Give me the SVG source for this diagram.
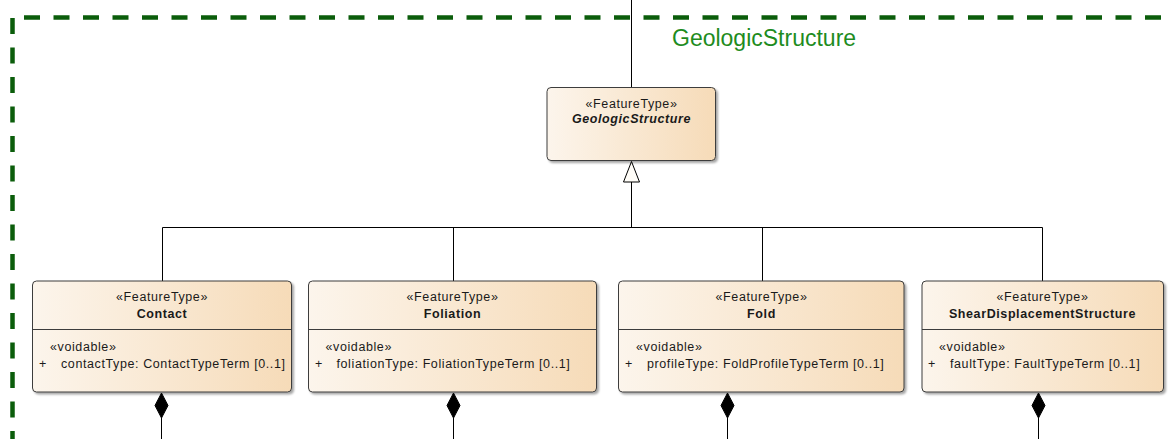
<svg xmlns="http://www.w3.org/2000/svg" width="1171" height="439" viewBox="0 0 1171 439">
  <style>
    .frame { fill: none; stroke: #0b5d0b; stroke-width: 4.5; stroke-dasharray: 16 13.5; }
    .pkg-title { font-family: "Liberation Sans", Arial, sans-serif; font-size: 23px; fill: #1e8c1e; }
    .box { fill: url(#classFill); stroke: #3c3c3c; stroke-width: 1; filter: url(#shadow); }
    .divider { stroke: #3c3c3c; stroke-width: 1; }
    .txt { font-family: "Liberation Sans", Arial, sans-serif; font-size: 12.5px; fill: #1a1a1a; letter-spacing: 0.6px; }
    .center { text-anchor: middle; }
    .name { font-weight: bold; }
    .abstract { font-weight: bold; font-style: italic; }
    .conn { fill: none; stroke: #000; stroke-width: 1; }
    .gen { fill: #fffdf8; stroke: #000; stroke-width: 1; }
    .comp { fill: #000; stroke: #000; stroke-width: 1; }
  </style>
  <defs>
    <linearGradient id="classFill" x1="0" y1="0" x2="1" y2="0">
      <stop offset="0" stop-color="#fcf5ec"/>
      <stop offset="1" stop-color="#f6dbb8"/>
    </linearGradient>
    <filter id="shadow" x="-5%" y="-5%" width="112%" height="120%">
      <feDropShadow dx="2" dy="2" stdDeviation="1.2" flood-color="#000" flood-opacity="0.35"/>
    </filter>
  </defs>

  <!-- package frame -->
  <g id="package-frame">
    <line class="frame" x1="24" y1="17.5" x2="1171" y2="17.5"/>
    <line class="frame" x1="12.5" y1="18" x2="12.5" y2="439"/>
    <text class="pkg-title" x="672" y="46">GeologicStructure</text>
  </g>

  <!-- connectors -->
  <g id="connectors">
    <line class="conn" x1="631.5" y1="0" x2="631.5" y2="88"/>
    <path class="conn" d="M631.5,182 V227.5 M162.5,227.5 H1042.5 M162.5,227.5 V281 M453.5,227.5 V281 M762.5,227.5 V281 M1042.5,227.5 V281"/>
    <polygon class="gen" points="631.5,161.5 623.5,182 639.5,182"/>
    <path class="conn" d="M161.5,418 V439 M453.5,418 V439 M727.5,418 V439 M1038.5,418 V439"/>
    <polygon class="comp" points="161.5,393 168,405.5 161.5,418 155,405.5"/>
    <polygon class="comp" points="453.5,393 460,405.5 453.5,418 447,405.5"/>
    <polygon class="comp" points="727.5,393 734,405.5 727.5,418 721,405.5"/>
    <polygon class="comp" points="1038.5,393 1045,405.5 1038.5,418 1032,405.5"/>
  </g>

  <!-- abstract supertype -->
  <g id="node-GeologicStructure">
    <rect class="box" x="547" y="87.5" width="168.5" height="73" rx="4"/>
    <text class="txt center" x="631.5" y="108">«FeatureType»</text>
    <text class="txt center abstract" x="631.5" y="123">GeologicStructure</text>
  </g>

  <g id="node-Contact">
    <rect class="box" x="32.5" y="281" width="259" height="111" rx="4"/>
    <line class="divider" x1="32.5" y1="329.5" x2="291.5" y2="329.5"/>
    <text class="txt center" x="162" y="300.5">«FeatureType»</text>
    <text class="txt center name" x="162" y="317.5">Contact</text>
    <text class="txt" x="50" y="351">«voidable»</text>
    <text class="txt" x="39" y="367.5">+</text>
    <text class="txt" x="61" y="367.5">contactType: ContactTypeTerm [0..1]</text>
  </g>

  <g id="node-Foliation">
    <rect class="box" x="308.5" y="281" width="288" height="111" rx="4"/>
    <line class="divider" x1="308.5" y1="329.5" x2="596.5" y2="329.5"/>
    <text class="txt center" x="452.5" y="300.5">«FeatureType»</text>
    <text class="txt center name" x="452.5" y="317.5">Foliation</text>
    <text class="txt" x="325.5" y="351">«voidable»</text>
    <text class="txt" x="315" y="367.5">+</text>
    <text class="txt" x="336.5" y="367.5">foliationType: FoliationTypeTerm [0..1]</text>
  </g>

  <g id="node-Fold">
    <rect class="box" x="618.5" y="281" width="285.5" height="111" rx="4"/>
    <line class="divider" x1="618.5" y1="329.5" x2="904" y2="329.5"/>
    <text class="txt center" x="761.5" y="300.5">«FeatureType»</text>
    <text class="txt center name" x="761.5" y="317.5">Fold</text>
    <text class="txt" x="636" y="351">«voidable»</text>
    <text class="txt" x="625" y="367.5">+</text>
    <text class="txt" x="647" y="367.5">profileType: FoldProfileTypeTerm [0..1]</text>
  </g>

  <g id="node-ShearDisplacementStructure">
    <rect class="box" x="922" y="281" width="241.5" height="111" rx="4"/>
    <line class="divider" x1="922" y1="329.5" x2="1163.5" y2="329.5"/>
    <text class="txt center" x="1042.5" y="300.5">«FeatureType»</text>
    <text class="txt center name" x="1042.5" y="317.5">ShearDisplacementStructure</text>
    <text class="txt" x="939" y="351">«voidable»</text>
    <text class="txt" x="928" y="367.5">+</text>
    <text class="txt" x="950" y="367.5">faultType: FaultTypeTerm [0..1]</text>
  </g>
</svg>
